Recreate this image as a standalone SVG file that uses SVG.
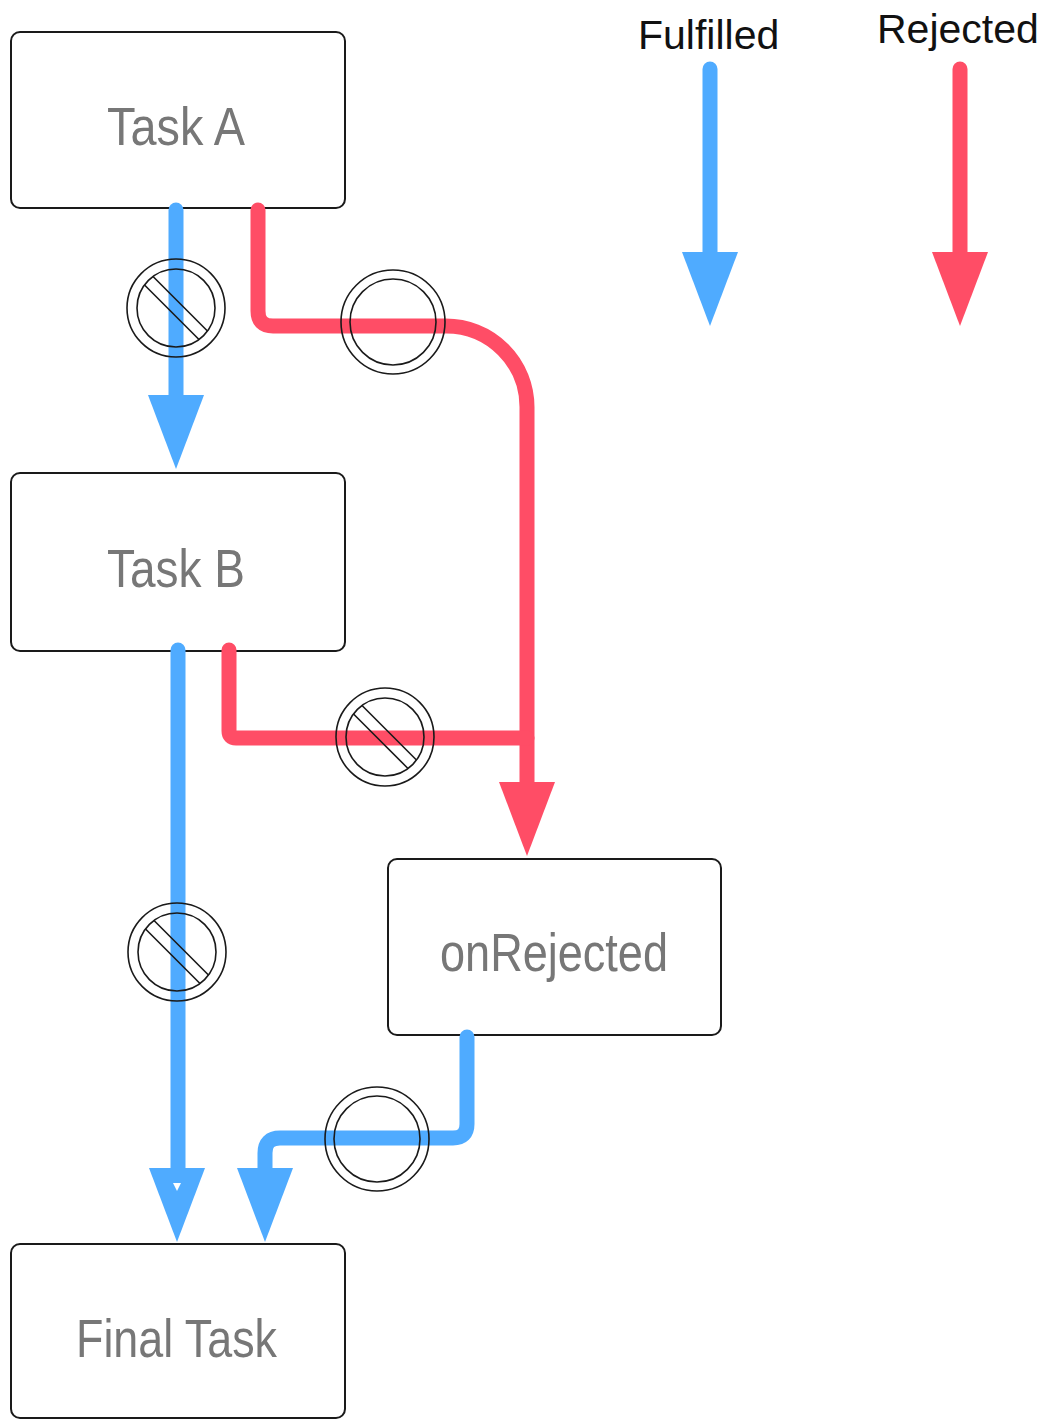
<svg xmlns="http://www.w3.org/2000/svg" xmlns:xlink="http://www.w3.org/1999/xlink" width="1048" height="1420" viewBox="0 0 1048 1420">
<style>
.box{fill:#fff;stroke:#1a1a1a;stroke-width:2}
.lbl{font-family:"Liberation Sans",Arial,sans-serif;font-size:54px;fill:#777;text-anchor:start}
.leg{font-family:"Liberation Sans",Arial,sans-serif;font-size:41px;fill:#111}
.blue{fill:none;stroke:#4FABFF;stroke-width:15;stroke-linecap:round;stroke-linejoin:round}
.red{fill:none;stroke:#FF4D66;stroke-width:15;stroke-linecap:round;stroke-linejoin:round}
.hb{fill:#4FABFF}
.hr{fill:#FF4D66}
.ring{fill:none;stroke:#1a1a1a;stroke-width:1.6}
</style>
<defs>
<g id="nope">
<circle class="ring" r="49"/>
<circle class="ring" r="39"/>
<g transform="rotate(45)">
<path class="ring" d="M-38.5,-6 H38.5 M-38.5,6 H38.5"/>
</g>
</g>
<g id="ok">
<circle class="ring" r="52"/>
<circle class="ring" r="43"/>
</g>
<path id="head" d="M-28,0 H28 L0,74 Z"/>
</defs>

<g id="nodes">
<g id="taskA">
<rect class="box" x="11" y="32" width="334" height="176" rx="9"/>
<text class="lbl" x="107" y="145" textLength="138" lengthAdjust="spacingAndGlyphs">Task A</text>
</g>
<g id="taskB">
<rect class="box" x="11" y="473" width="334" height="178" rx="9"/>
<text class="lbl" x="107" y="587" textLength="138" lengthAdjust="spacingAndGlyphs">Task B</text>
</g>
<g id="onRejected">
<rect class="box" x="388" y="859" width="333" height="176" rx="9"/>
<text class="lbl" x="440" y="971" textLength="228" lengthAdjust="spacingAndGlyphs">onRejected</text>
</g>
<g id="finalTask">
<rect class="box" x="11" y="1244" width="334" height="174" rx="9"/>
<text class="lbl" x="76" y="1357" textLength="201" lengthAdjust="spacingAndGlyphs">Final Task</text>
</g>
</g>

<g id="connectors">
<path class="blue" d="M176,210 V400"/>
<use xlink:href="#head" class="hb" transform="translate(176,395)"/>
<path class="red" d="M258,210 V311 Q258,326 273,326 H446 A81,81 0 0 1 527,407 V785"/>
<path class="red" d="M229,650 V731 Q229,738 236,738 H527"/>
<use xlink:href="#head" class="hr" transform="translate(527,782)"/>
<path class="blue" d="M178,650 V1170"/>
<use xlink:href="#head" class="hb" transform="translate(177,1168)"/>
<path d="M173,1183 H181 L177,1191 Z" fill="#fff"/>
<path class="blue" d="M467,1037 V1124 Q467,1138 453,1138 H280 Q265,1138 265,1153 V1170"/>
<use xlink:href="#head" class="hb" transform="translate(265,1168)"/>
<use xlink:href="#nope" transform="translate(176,308)"/>
<use xlink:href="#ok" transform="translate(393,322)"/>
<use xlink:href="#nope" transform="translate(385,737)"/>
<use xlink:href="#nope" transform="translate(177,952)"/>
<use xlink:href="#ok" transform="translate(377,1139)"/>
</g>

<g id="legend">
<text class="leg" x="638" y="49">Fulfilled</text>
<text class="leg" x="877" y="43">Rejected</text>
<path class="blue" d="M710,69 V256"/>
<use xlink:href="#head" class="hb" transform="translate(710,252)"/>
<path class="red" d="M960,69 V256"/>
<use xlink:href="#head" class="hr" transform="translate(960,252)"/>
</g>
</svg>
